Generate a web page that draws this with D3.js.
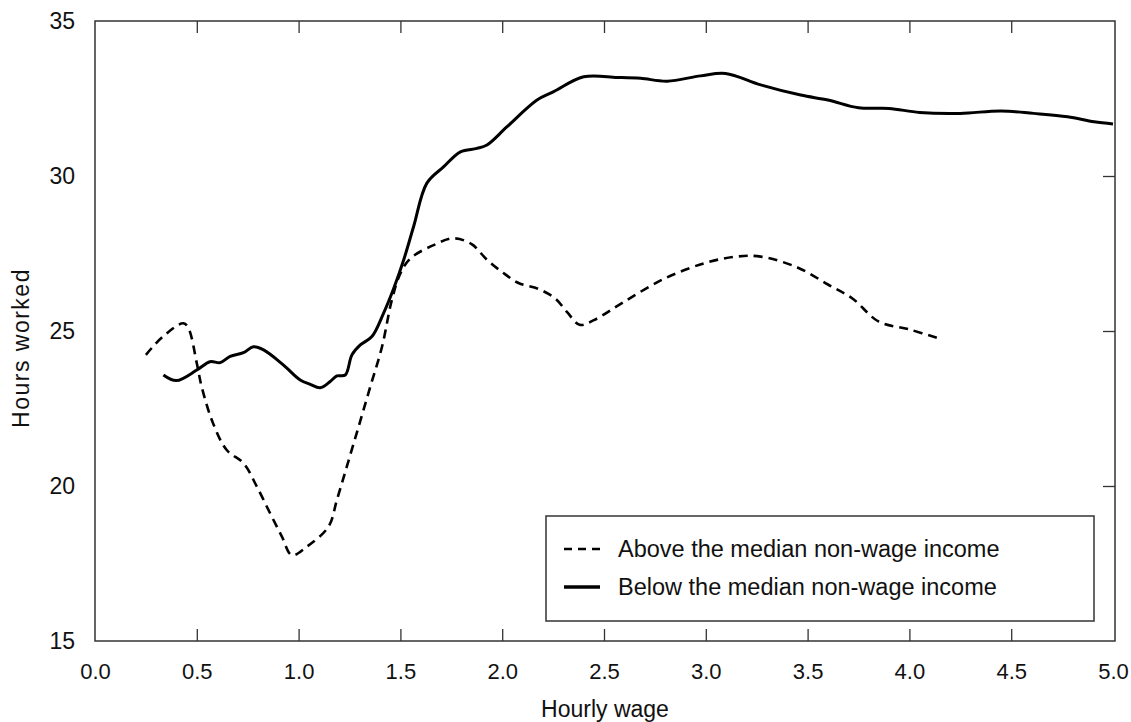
<!DOCTYPE html>
<html>
<head>
<meta charset="utf-8">
<script src="https://cdn.jsdelivr.net/npm/d3@7"></script>
<style>
body { margin: 0; background: #fff; }
text { font-family: "Liberation Sans", Arial, sans-serif; fill: #111; }
</style>
</head>
<body>
<script>
// above the median non-wage income (dashed)
var aboveX = [0.25,0.33,0.434,0.459,0.5,0.524,0.58,0.647,0.73,0.795,0.86,0.918,0.967,1.04,1.147,1.188,1.237,1.295,1.352,1.41,1.458,1.5,1.549,1.663,1.762,1.85,1.925,2.0,2.08,2.18,2.26,2.32,2.38,2.45,2.6,2.8,3.0,3.15,3.27,3.45,3.6,3.72,3.85,4.0,4.15];
var aboveY = [24.23,24.8,25.25,25.09,23.96,23.2,22.02,21.16,20.73,19.98,19.12,18.37,17.77,18.04,18.69,19.55,20.63,21.92,23.2,24.5,26.0,26.86,27.34,27.77,27.99,27.8,27.3,26.9,26.55,26.35,26.05,25.6,25.2,25.35,25.95,26.7,27.2,27.4,27.4,27.05,26.5,26.05,25.3,25.05,24.75];

// below the median non-wage income (solid)
var belowX = [0.336,0.4,0.5,0.565,0.615,0.664,0.729,0.778,0.828,0.926,1.008,1.057,1.106,1.155,1.188,1.229,1.262,1.303,1.36,1.417,1.467,1.516,1.565,1.63,1.713,1.795,1.876,1.925,2.024,2.171,2.253,2.4,2.565,2.68,2.81,2.974,3.097,3.27,3.466,3.6,3.75,3.9,4.05,4.25,4.449,4.61,4.777,4.907,5.0];
var belowY = [23.58,23.4,23.74,24.01,23.98,24.18,24.3,24.49,24.39,23.9,23.42,23.28,23.17,23.37,23.55,23.58,24.23,24.55,24.82,25.57,26.37,27.29,28.37,29.77,30.3,30.78,30.89,31.0,31.59,32.45,32.72,33.2,33.18,33.15,33.06,33.23,33.31,32.94,32.61,32.45,32.2,32.18,32.05,32.02,32.1,32.02,31.91,31.75,31.68];

var xTicks = [0,0.5,1,1.5,2,2.5,3,3.5,4,4.5,5];
var yTicks = [15,20,25,30,35];
var seriesNames = ["Above the median non-wage income","Below the median non-wage income"];

function draw() {
    var W = 1131, H = 722;
    var pl = 95, pr = 1115, pt = 21, pb = 641;

    var svg = d3.select("body").append("svg")
        .attr("width", W)
        .attr("height", H);

    var x = d3.scaleLinear().domain([0,5]).range([pl, pr - 2]);
    var y = d3.scaleLinear().domain([15,35]).range([pb, pt]);

    // frame
    svg.append("rect")
        .attr("x", pl).attr("y", pt)
        .attr("width", pr-pl).attr("height", pb-pt)
        .attr("fill", "none").attr("stroke", "#333").attr("stroke-width", 1.5);

    // bottom axis, inward ticks
    var xAxis = svg.append("g")
        .attr("transform", "translate(0," + pb + ")")
        .call(d3.axisBottom(x).tickValues(xTicks).tickSize(-12).tickPadding(22).tickFormat(d3.format(".1f")));
    xAxis.select(".domain").remove();
    xAxis.selectAll(".tick line").attr("stroke", "#333").attr("stroke-width", 1.3)
        .filter(function(d){ return d==0 || d==5; }).remove();
    xAxis.selectAll("text").style("font-size", "22px").attr("fill", "#111");

    // top ticks
    var xTop = svg.append("g")
        .attr("transform", "translate(0," + pt + ")")
        .call(d3.axisTop(x).tickValues(xTicks.slice(1, -1)).tickSize(-12).tickFormat(""));
    xTop.select(".domain").remove();
    xTop.selectAll(".tick line").attr("stroke", "#333").attr("stroke-width", 1.3);

    // left labels
    var yAxis = svg.append("g")
        .attr("transform", "translate(" + pl + ",0)")
        .call(d3.axisLeft(y).tickValues(yTicks).tickSize(0).tickPadding(20));
    yAxis.select(".domain").remove();
    yAxis.selectAll("text").style("font-size", "23px").attr("fill", "#111");

    // right ticks
    var yRight = svg.append("g")
        .attr("transform", "translate(" + pr + ",0)")
        .call(d3.axisRight(y).tickValues(yTicks.slice(1, -1)).tickSize(-12).tickFormat(""));
    yRight.select(".domain").remove();
    yRight.selectAll(".tick line").attr("stroke", "#333").attr("stroke-width", 1.3);

    // axis titles
    svg.append("text")
        .attr("x", (pl+pr)/2).attr("y", 717)
        .attr("text-anchor", "middle")
        .style("font-size", "23px")
        .text("Hourly wage");

    svg.append("text")
        .attr("transform", "translate(29,348) rotate(-90)")
        .attr("text-anchor", "middle")
        .style("font-size", "23px")
        .style("letter-spacing", "1.5px")
        .text("Hours worked");

    var line = d3.line()
        .x(function(d){ return x(d[0]); })
        .y(function(d){ return y(d[1]); })
        .curve(d3.curveCatmullRom);

    svg.append("path")
        .datum(d3.zip(aboveX, aboveY))
        .attr("d", line)
        .attr("fill", "none")
        .attr("stroke", "#000")
        .attr("stroke-width", 2.6)
        .attr("stroke-dasharray", "9,6");

    svg.append("path")
        .datum(d3.zip(belowX, belowY))
        .attr("d", line)
        .attr("fill", "none")
        .attr("stroke", "#000")
        .attr("stroke-width", 3);

    // legend
    var lg = svg.append("g");
    lg.append("rect")
        .attr("x", 546).attr("y", 516)
        .attr("width", 548).attr("height", 105)
        .attr("fill", "#fff").attr("stroke", "#333").attr("stroke-width", 1.5);

    lg.selectAll(".key")
        .data(seriesNames)
        .enter().append("line")
        .attr("x1", 564).attr("x2", 600)
        .attr("y1", function(d,i){ return 549 + i*38; })
        .attr("y2", function(d,i){ return 549 + i*38; })
        .attr("stroke", "#000")
        .attr("stroke-width", function(d,i){ return i==0 ? 2.6 : 3.5; })
        .attr("stroke-dasharray", function(d,i){ return i==0 ? "8,6" : null; });

    lg.selectAll(".lbl")
        .data(seriesNames)
        .enter().append("text")
        .attr("x", 618)
        .attr("y", function(d,i){ return 549 + i*38; })
        .attr("dy", "0.35em")
        .style("font-size", "23.5px")
        .text(function(d){ return d; });
}

draw();
</script>
</body>
</html>
